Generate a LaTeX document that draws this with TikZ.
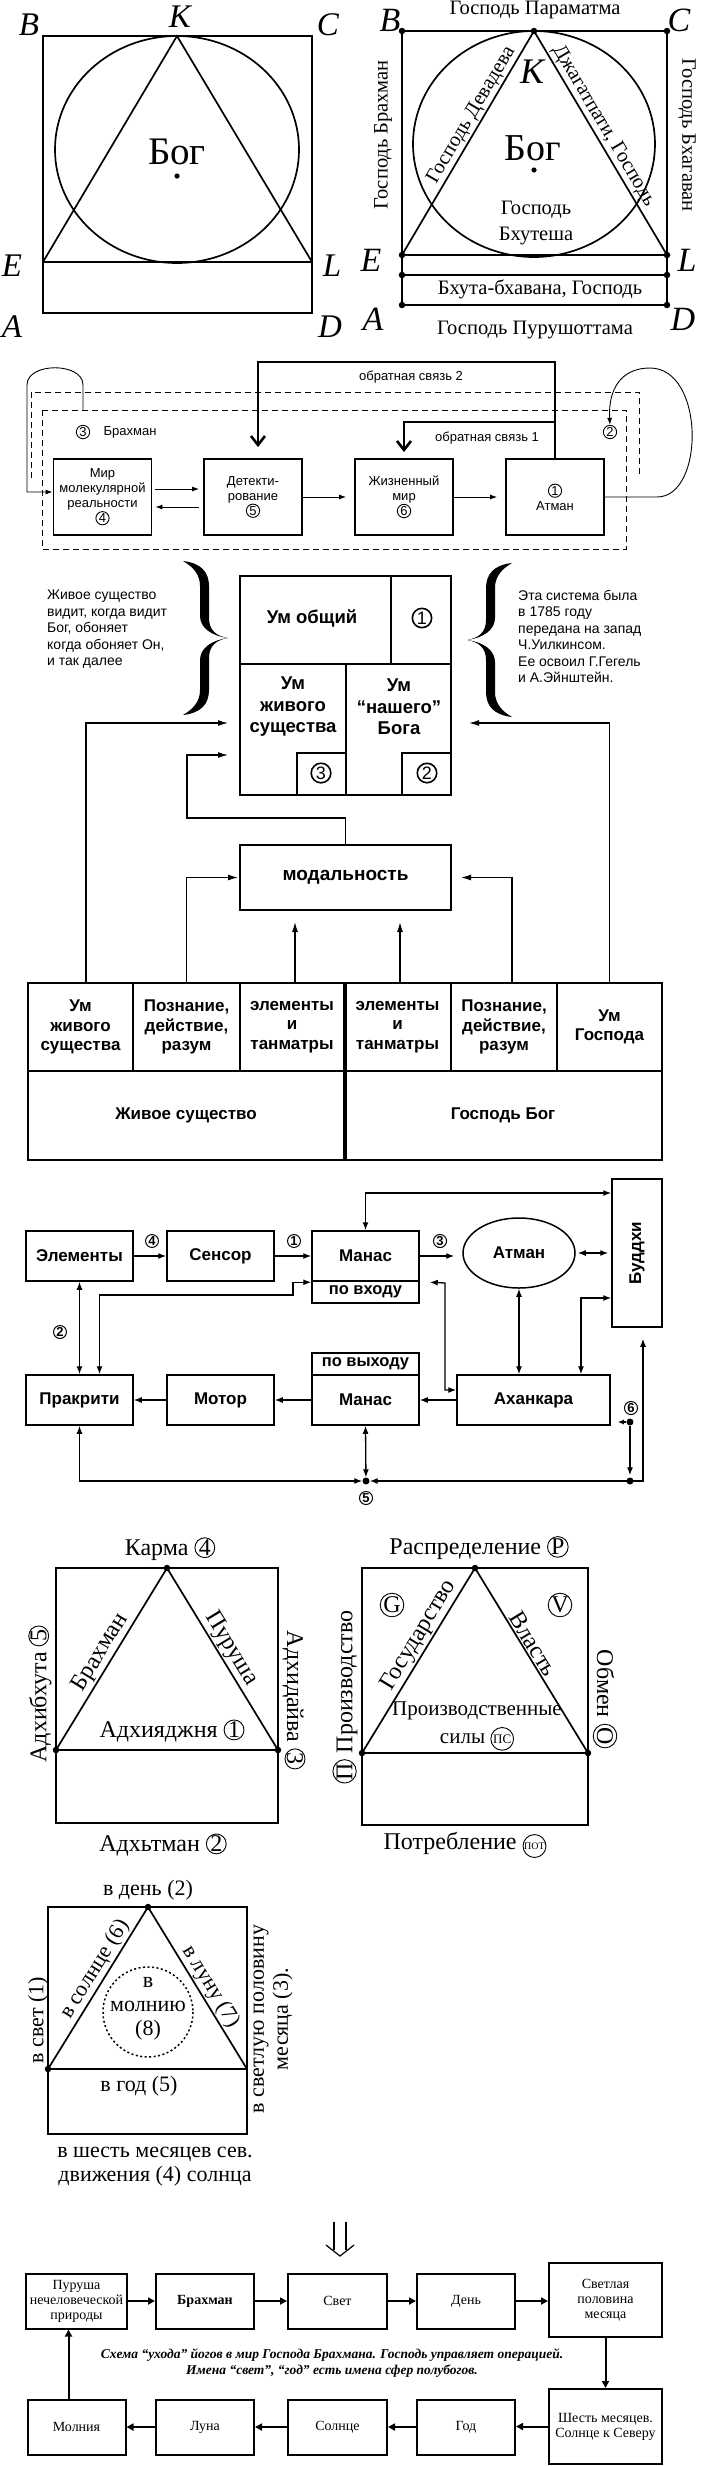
\documentclass[tikz,border=0pt]{standalone}
\usepackage{fontspec}
\usepackage{graphicx}
\setmainfont{Liberation Serif}
\setsansfont{Liberation Sans}
\usetikzlibrary{arrows.meta, shapes.geometric, positioning, calc}

\newcommand{\fs}[2]{\fontsize{#1}{#2}\selectfont}
\newcommand{\cn}[2][0pt]{\tikz[baseline=(cn.base)]\node[cnum, inner sep=#1] (cn) {#2};}

\tikzset{
  cnum/.style = {draw, circle, line width=0.9pt, minimum width=0pt, minimum height=0pt, text width={}},
  fig/.style = {line width=1.7pt},
  vdot/.style = {circle, fill, inner sep=0pt, minimum size=6.5pt},
  bdot/.style = {circle, fill, inner sep=0pt, minimum size=7pt},
  letter/.style = {font=\itshape\fs{33}{33}, inner sep=0pt},
  gtext/.style = {font=\fs{20.5}{26}, align=center},
  ttext/.style = {font=\fs{24}{28}, align=center},
  ttextn/.style = {font=\fs{22}{24}, align=center},
  % feedback scheme
  fbbox/.style = {draw, line width=1.8pt, minimum width=98, minimum height=76, align=center, font=\sffamily\fs{13}{15}},
  fbtext/.style = {font=\sffamily\fs{13}{15}},
  fbcn/.style = {draw, circle, line width=0.9pt, inner sep=0.6pt, font=\sffamily\fs{13}{13}},
  fbarr/.style = {line width=2.6pt, -{Straight Barb[length=9pt, width=14pt]}},
  dashline/.style = {line width=1pt, dash pattern=on 6pt off 4pt},
  tarr/.style = {line width=0.9pt, -{Latex[length=7pt, width=5pt]}},
  % mind scheme
  ptext/.style = {font=\sffamily\fs{14}{16.5}, align=left, inner sep=0pt},
  umtext/.style = {font=\sffamily\bfseries\fs{18.5}{21.5}, align=center},
  bigcn/.style = {draw, circle, line width=1.6pt, inner sep=1.2pt, font=\sffamily\fs{18}{18}},
  colbox/.style = {draw, line width=2pt, minimum height=88, align=center, font=\sffamily\bfseries\fs{17}{19.5}},
  marr/.style = {line width=1.2pt, -{Latex[length=10pt, width=6pt]}},
  % manas scheme
  sbox/.style = {draw, line width=1.5pt, minimum width=107, minimum height=50, font=\sffamily\bfseries\fs{17}{17}},
  scn/.style = {draw, circle, line width=1pt, inner sep=0.5pt, font=\sffamily\bfseries\fs{13}{13}},
  sa/.style = {line width=1.3pt, -{Latex[length=8pt, width=6pt]}},
  sda/.style = {line width=1.3pt, {Latex[length=8pt, width=6pt]}-{Latex[length=8pt, width=6pt]}},
  % flow
  flow/.style = {draw, line width=2pt, minimum width=98, minimum height=55, align=center, font=\fs{14}{15}},
  farr/.style = {line width=2pt, -{Triangle[length=7pt, width=7pt]}},
  pics/bigbrace/.style = {code={
    \fill (0,0) .. controls (-12,-2) and (-19,-8) .. (-19,-20) -- (-19,-52)
      .. controls (-19,-66) and (-27,-75) .. (-45,-77)
      .. controls (-33,-70) and (-28,-62) .. (-28,-52) -- (-28,-22)
      .. controls (-28,-10) and (-16,-2) .. (0,0) -- cycle;
    \fill (0,0) .. controls (-12,2) and (-19,8) .. (-19,20) -- (-19,52)
      .. controls (-19,66) and (-27,75) .. (-45,77)
      .. controls (-33,70) and (-28,62) .. (-28,52) -- (-28,22)
      .. controls (-28,10) and (-16,2) .. (0,0) -- cycle;
  }}
}

\begin{document}
\begin{tikzpicture}[x=1pt, y=-1pt]
  \useasboundingbox (0,0) rectangle (701,2466);
  \fill[white] (0,0) rectangle (701,2466);

  %% Square, circle and triangle (left)
  \coordinate (B1) at (43,36);
  \coordinate (K1) at (177,36);
  \coordinate (E1) at (43,262);
  \coordinate (L1) at (312,262);
  \coordinate (D1) at (312,313);
  \draw[fig] (B1) rectangle (D1);
  \draw[fig] (E1) -- (L1);
  \draw[fig] (177,149.5) ellipse [x radius=122, y radius=113.5];
  \draw[fig] (E1) -- (K1) -- (L1);
  \node[font=\fs{39}{39}] (bog1) at (177,152) {Бог};
  \fill (177,176) circle [radius=2.6];
  \node[letter] (lb1) at (29,25) {B};
  \node[letter] (lk1) at (180,17) {K};
  \node[letter] (lc1) at (328,25) {C};
  \node[letter] (le1) at (12,266) {E};
  \node[letter] (ll1) at (332,266) {L};
  \node[letter] (la1) at (12,327) {A};
  \node[letter] (ld1) at (330,327) {D};

  %% Square, circle and triangle (right)
  \coordinate (B2) at (402,31);
  \coordinate (C2) at (667,31);
  \coordinate (K2) at (534,31);
  \coordinate (E2) at (402,255);
  \coordinate (L2) at (667,255);
  \coordinate (F2) at (402,275);
  \coordinate (G2) at (667,275);
  \coordinate (A2) at (402,305);
  \coordinate (D2) at (667,305);
  \draw[fig] (B2) rectangle (D2);
  \draw[fig] (E2) -- (L2);
  \draw[fig] (F2) -- (G2);
  \draw[fig] (534,144) ellipse [x radius=121, y radius=113];
  \draw[fig] (E2) -- (K2) -- (L2);
  \foreach \p in {B2,C2,K2,E2,L2,F2,G2,A2,D2}
    \node[vdot] at (\p) {};
  \node[font=\fs{38}{38}] (bog2) at (533,148) {Бог};
  \fill (534,170) circle [radius=2.6];
  \node[letter, font=\itshape\fs{34}{34}] (lb2) at (390,20) {B};
  \node[letter, font=\itshape\fs{34}{34}] (lc2) at (679,20) {C};
  \node[letter, font=\itshape\fs{36}{36}] (lk2) at (532,72) {K};
  \node[letter, font=\itshape\fs{34}{34}] (le2) at (371,260) {E};
  \node[letter, font=\itshape\fs{34}{34}] (ll2) at (687,260) {L};
  \node[letter, font=\itshape\fs{34}{34}] (la2) at (373,319) {A};
  \node[letter, font=\itshape\fs{34}{34}] (ld2) at (683,319) {D};
  \node[gtext] (param) at (535,10) {Господь Параматма};
  \node[gtext, rotate=90] (gbrah) at (383,135) {Господь Брахман};
  \node[gtext, rotate=-90] (gbhag) at (687,135) {Господь Бхагаван};
  \path (E2) -- (K2) node[gtext, pos=0.6, sloped, above, inner sep=2pt] (gdev) {Господь Девадева};
  \path (K2) -- (L2) node[gtext, pos=0.45, sloped, above, inner sep=2pt] (gdzh) {Джагатпати, Господь};
  \node[gtext] (gbhut) at (536,223) {Господь\\Бхутеша};
  \node[gtext] (gbhav) at (540,289) {Бхута-бхавана, Господь};
  \node[gtext] (gpur) at (535,330) {Господь Пурушоттама};

  %% Feedback scheme
  \draw[dashline] (42,410) rectangle (626,549);
  \draw[dashline] (31,478) -- (31,392) -- (639,392) -- (639,475);
  \node[fbbox] (mir) at (102.5,497) {Мир\\молекулярной\\реальности\\\cn[0.6pt]{4}};
  \node[fbbox] (det) at (253,497) {Детекти-\\рование\\\cn[0.6pt]{5}};
  \node[fbbox] (zhiz) at (404,497) {Жизненный\\мир\\\cn[0.6pt]{6}};
  \node[fbbox] (atman) at (555,497) {\cn[0.6pt]{1}\\Атман};
  \draw[tarr, shorten <=3pt, shorten >=4pt] ([yshift=8]mir.east) -- ([yshift=8]det.west);
  \draw[tarr, shorten <=4pt, shorten >=3pt] ([yshift=-10]det.west) -- ([yshift=-10]mir.east);
  \draw[tarr, shorten >=8pt] (det) -- (zhiz);
  \draw[tarr, shorten >=8pt] (zhiz) -- (atman);
  % feedback loops
  \coordinate (fbtop) at (258,362);
  \coordinate (fbmid) at (555,422);
  \draw[fbarr, shorten >=11pt] (atman.north) |- (fbtop) -- (fbtop |- det.north);
  \draw[fbarr, shorten >=6pt] (fbmid) -| (zhiz.north);
  \node[fbtext] (fb2) at (411,377) {обратная связь 2};
  \node[fbtext] (fb1) at (487,438) {обратная связь 1};
  \node[fbcn] (c3) at (83,432) {3};
  \node[fbtext, right=10pt of c3] (brah) {Брахман};
  \node[fbcn] (c2) at (610,432) {2};
  \draw[tarr] (83,410) -- (83,385) .. controls (83,362) and (27,362) .. (27,385)
    -- (27,492) -- ([yshift=5]mir.west);
  \draw[tarr] (atman.east) -- (657,497) .. controls (705,497) and (705,368) .. (650,368)
    .. controls (622,368) and (608,388) .. (c2.north);

  %% Mind scheme
  \node[draw, line width=2.8pt, minimum width=211, minimum height=219] (um) at (345.5,685.5) {};
  \draw[line width=2pt] (240,664) -- (451,664);
  \draw[line width=2pt] (391,576) -- (391,664);
  \draw[line width=2pt] (346,664) -- (346,795);
  \draw[line width=2pt] (297,795) |- (346,753);
  \draw[line width=2pt] (402,795) |- (451,753);
  \node[umtext] (umob) at (312,618) {Ум общий};
  \node[bigcn] (u1) at (422,618) {1};
  \node[umtext] (umzh) at (293,707) {Ум\\живого\\существа};
  \node[umtext] (umbog) at (399,707) {Ум\\“нашего”\\Бога};
  \node[bigcn] (u3) at (321,773) {3};
  \node[bigcn] (u2) at (427,773) {2};
  \pic at (228,638) {bigbrace};
  \pic[xscale=-1] at (467,640) {bigbrace};
  \node[ptext, anchor=north west] (ltext) at (47,590) {Живое существо\\видит, когда видит\\Бог, обоняет\\когда обоняет Он,\\и так далее};
  \node[ptext, anchor=north west] (rtext) at (518,590) {Эта система была\\в 1785 году\\передана на запад\\Ч.Уилкинсом.\\Ее освоил Г.Гегель\\и А.Эйнштейн.};

  \node[draw, line width=2pt, minimum width=211, minimum height=65, font=\sffamily\bfseries\fs{19}{19}] (modal) at (345.5,877.5) {модальность};
  \node[colbox, minimum width=105] (colA) at (80.5,1027) {Ум\\живого\\существа};
  \node[colbox, minimum width=107] (colB) at (186.5,1027) {Познание,\\действие,\\разум};
  \node[colbox, minimum width=104] (colC) at (292,1027) {элементы\\и\\танматры};
  \node[colbox, minimum width=107] (colD) at (397.5,1027) {элементы\\и\\танматры};
  \node[colbox, minimum width=106] (colE) at (504,1027) {Познание,\\действие,\\разум};
  \node[colbox, minimum width=105] (colF) at (609.5,1027) {Ум\\Господа};
  \node[colbox, minimum width=316, minimum height=89] (zhiv) at (186,1115.5) {Живое существо};
  \node[colbox, minimum width=318, minimum height=89] (gosp) at (503,1115.5) {Господь Бог};
  \draw[line width=3.4pt] (colC.north east) -- (zhiv.south east);
  \coordinate (inA) at (228,723);
  \coordinate (inB) at (228,755);
  \coordinate (inC) at (469,723);
  \coordinate (bendB) at (187,818);
  \draw[marr] ([xshift=5.5]colA.north) |- (inA);
  \draw[marr] (modal.north) |- (bendB) |- (inB);
  \draw[marr] (colF.north) |- (inC);
  \draw[marr] (colB.north) |- ([xshift=-1]modal.west);
  \draw[marr, shorten >=9pt] ([xshift=8]colE.north) |- (modal.east);
  \draw[marr] ([xshift=3]colC.north) -- ++(0,-60);
  \draw[marr] ([xshift=2.5]colD.north) -- ++(0,-60);

  %% Manas scheme
  \node[sbox] (elem) at (79.5,1256) {Элементы};
  \node[sbox] (sens) at (220.5,1256) {Сенсор};
  \node[sbox] (manin) at (365.5,1256) {Манас};
  \node[sbox, minimum height=22, inner sep=1pt, font=\sffamily\bfseries\fs{16.5}{16.5}] (vhod) at (365.5,1292) {по входу};
  \node[draw, ellipse, line width=1.5pt, minimum width=112, minimum height=70, font=\sffamily\bfseries\fs{17}{17}] (atm) at (519,1253) {Атман};
  \node[sbox, minimum width=50, minimum height=148] (bud) at (637,1253) {\rotatebox{90}{Буддхи}};
  \node[sbox] (prak) at (79.5,1400) {Пракрити};
  \node[sbox] (mot) at (220.5,1400) {Мотор};
  \node[sbox] (manout) at (365.5,1400) {Манас};
  \node[sbox, minimum height=22, inner sep=1pt, font=\sffamily\bfseries\fs{16.5}{16.5}] (vyh) at (365.5,1364) {по выходу};
  \node[sbox, minimum width=153] (ahan) at (533.5,1400) {Аханкара};
  \node[bdot] (d5) at (366,1481) {};
  \node[bdot] (dR) at (630,1481) {};
  \node[bdot] (d6) at (630,1422) {};
  \coordinate (pk1) at (293,1295);
  \coordinate (ah1) at (445,1283);
  \draw[sa] (elem) -- (sens);
  \draw[sa] (sens) -- (manin);
  \draw[sa, shorten >=8pt] (manin.east) -- (manin.east -| atm.west);
  \draw[sda, shorten <=2pt, shorten >=3pt] (atm.east) -- (atm.east -| bud.west);
  \draw[sda] (manin.north) |- ([yshift=60]bud.west);
  \draw[sda] (elem) -- (prak);
  \draw[sda] ([xshift=20]prak.north) |- (pk1) |- ([yshift=-2]vhod.north west);
  \draw[sda] ([yshift=10]ahan.west) -| (ah1) -- ([xshift=10,yshift=-2]vhod.north east);
  \draw[sda] (atm.south) -- (atm.south |- ahan.north);
  \draw[sda] ([xshift=47.5]ahan.north) |- ([yshift=-45]bud.west);
  \draw[sa] (ahan) -- (manout);
  \draw[sa] (manout) -- (mot);
  \draw[sa] (mot) -- (prak);
  \draw[sda] (prak.south) |- (d5);
  \draw[sda] (manout.south) -- (d5);
  \draw[sda, shorten <=11pt] ([xshift=6]bud.south) |- (d5);
  \draw[sa, -{Latex[length=6pt, width=5pt]}, shorten >=7pt] (d6) -- (d6 -| ahan.east);
  \draw[sa, shorten >=2pt] (d6) -- (dR);
  \node[scn] (n4) at (152,1241) {4};
  \node[scn] (n1) at (294,1241) {1};
  \node[scn] (n3) at (440,1241) {3};
  \node[scn] (n2) at (60,1332) {2};
  \node[scn] (n6) at (631,1408) {6};
  \node[scn] (n5) at (366,1498) {5};

  %% Triangle: Karma
  \coordinate (T7) at (167,1568);
  \coordinate (P7) at (56,1750);
  \coordinate (Q7) at (278,1750);
  \draw[fig] (56,1568) rectangle (278,1823);
  \draw[fig] (P7) -- (Q7);
  \draw[fig] (P7) -- (T7) -- (Q7);
  \foreach \p in {T7,P7,Q7}
    \node[vdot] at (\p) {};
  \node[ttext] (karma) at (170,1549) {Карма \cn{4}};
  \path (P7) -- (T7) node[ttext, pos=0.5, sloped, above, inner sep=2pt] (tbrah) {Брахман};
  \path (T7) -- (Q7) node[ttext, pos=0.48, sloped, above, inner sep=2pt] (tpur) {Пуруша};
  \node[ttext] (adhib) at (40,1694) {\rotatebox{90}{Адхибхута \cn{5}}};
  \node[ttext] (adhid) at (294,1700) {\rotatebox{-90}{Адхидайва \cn{3}}};
  \node[ttext] (adhiya) at (172,1731) {Адхияджня \cn{1}};
  \node[ttext] (adhat) at (163,1845) {Адхьтман \cn{2}};

  %% Triangle: economy
  \coordinate (T8) at (475,1568);
  \coordinate (P8) at (362,1753);
  \coordinate (Q8) at (588,1753);
  \draw[fig] (362,1568) rectangle (588,1825);
  \draw[fig] (P8) -- (Q8);
  \draw[fig] (P8) -- (T8) -- (Q8);
  \foreach \p in {T8,P8,Q8}
    \node[vdot] at (\p) {};
  \node[ttext] (raspr) at (479,1548) {Распределение \cn{Р}};
  \node[ttext] (cg) at (392,1605) {\cn{G}};
  \node[ttext] (cv) at (560,1605) {\cn{V}};
  \path (P8) -- (T8) node[ttext, pos=0.6, sloped, above, inner sep=2pt] (gosud) {Государство};
  \path (T8) -- (Q8) node[ttext, pos=0.44, sloped, above, inner sep=2pt] (vlast) {Власть};
  \node[ttext] (obmen) at (605,1699) {\rotatebox{-90}{Обмен \cn{О}}};
  \node[ttext] (proizv) at (345,1697) {\rotatebox{90}{\cn{П} Производство}};
  \node[ttext, font=\fs{21}{28}] (psily) at (477,1726) {Производственные\\силы \cn[1pt]{\fs{13}{13}ПС}};
  \node[ttext] (potr) at (465,1845) {Потребление \cn[0.5pt]{\fs{10}{10}ПОТ}};

  %% Triangle: paths of the yogis
  \coordinate (T9) at (148,1907);
  \coordinate (P9) at (48,2069);
  \coordinate (Q9) at (247,2069);
  \draw[fig] (48,1907) rectangle (247,2134);
  \draw[fig] (P9) -- (Q9);
  \draw[fig] (P9) -- (T9) -- (Q9);
  \node[vdot] at (T9) {};
  \node[vdot] at (P9) {};
  \draw[line width=1.5pt, dash pattern=on 2pt off 2.5pt] (148,2012) circle [radius=45];
  \node[ttextn] (den) at (148,1890) {в день (2)};
  \node[ttextn, rotate=90] (svet) at (38,2020) {в свет (1)};
  \path (P9) -- (T9) node[ttextn, pos=0.575, sloped, above, inner sep=2pt] (soln) {в солнце (6)};
  \path (T9) -- (Q9) node[ttextn, pos=0.53, sloped, above, inner sep=2pt] (luna) {в луну (7)};
  \node[ttextn] (moln) at (148,2009) {в\\молнию\\(8)};
  \node[ttextn] (god) at (139,2086) {в год (5)};
  \node[ttextn, rotate=90] (polov) at (273,2019) {в светлую половину\\месяца (3).};
  \node[ttextn] (shest) at (155,2167) {в шесть месяцев сев.\\движения (4) солнца};

  %% Flow of departure
  \draw[line width=1.2pt] (334,2222) -- (334,2250) (346,2222) -- (346,2250);
  \draw[line width=1.2pt] (326,2245) -- (340,2256) -- (354,2245);
  \node[flow] (f1) at (76.5,2301) {Пуруша\\нечеловеческой\\природы};
  \node[flow] (f2) at (205,2301) {\textbf{Брахман}};
  \node[flow, minimum width=99] (f3) at (337.5,2301) {Свет};
  \node[flow] (f4) at (466,2301) {День};
  \node[flow, minimum width=113, minimum height=74] (f5) at (605.5,2300) {Светлая\\половина\\месяца};
  \node[flow, minimum width=113, minimum height=75] (f6) at (605.5,2426.5) {Шесть месяцев.\\Солнце к Северу};
  \node[flow] (f7) at (466,2427) {Год};
  \node[flow, minimum width=99] (f8) at (337.5,2427) {Солнце};
  \node[flow] (f9) at (205,2427) {Луна};
  \node[flow] (f10) at (76.5,2427) {Молния};
  \draw[farr] (f1) -- (f2);
  \draw[farr] (f2) -- (f3);
  \draw[farr] (f3) -- (f4);
  \draw[farr] (f4.east) -- (f4.east -| f5.west);
  \draw[farr] (f5) -- (f6);
  \draw[farr] (f6.west) -- (f6.west -| f7.east);
  \draw[farr] (f7) -- (f8);
  \draw[farr] (f8) -- (f9);
  \draw[farr] (f9) -- (f10);
  \draw[farr] ([xshift=-8]f10.north) -- ([xshift=-8]f1.south);
  \node[font=\bfseries\itshape\fs{13.5}{15.7}, align=center] (capt) at (332,2363) {Схема “ухода” йогов в мир Господа Брахмана. Господь управляет операцией.\\Имена “свет”, “год” есть имена сфер полубогов.};

\end{tikzpicture}
\end{document}
